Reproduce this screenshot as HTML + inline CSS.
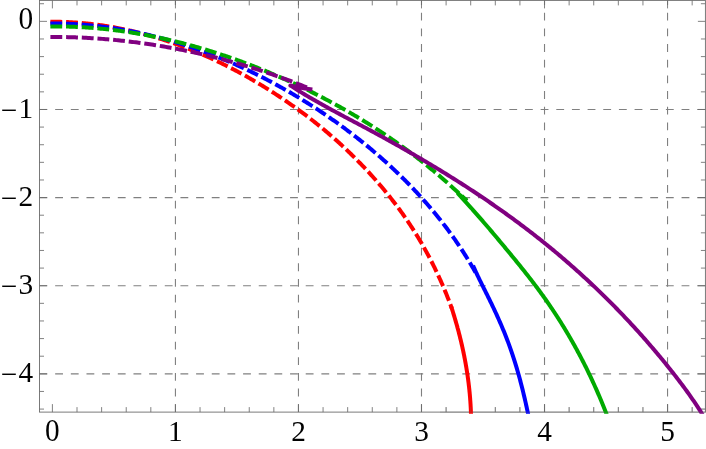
<!DOCTYPE html>
<html><head><meta charset="utf-8"><title>Plot</title>
<style>html,body{margin:0;padding:0;background:#fff;}body{width:706px;height:449px;overflow:hidden;position:relative;font-family:"Liberation Serif",serif;}</style>
</head><body>
<svg width="706" height="449" viewBox="0 0 706 449" style="position:absolute;left:0;top:0;will-change:transform">
<defs><clipPath id="c"><rect x="39.5" y="-0.6" width="667.4" height="414.30000000000007"/></clipPath></defs>
<g stroke="#808080" stroke-width="1.1" stroke-dasharray="7.83 7.83" fill="none"><line x1="175.43" y1="412.1" x2="175.43" y2="0.4"/><line x1="298.46" y1="412.1" x2="298.46" y2="0.4"/><line x1="421.49" y1="412.1" x2="421.49" y2="0.4"/><line x1="544.52" y1="412.1" x2="544.52" y2="0.4"/><line x1="667.55" y1="412.1" x2="667.55" y2="0.4"/><line x1="39.5" y1="109.47" x2="705.4" y2="109.47"/><line x1="39.5" y1="197.59" x2="705.4" y2="197.59"/><line x1="39.5" y1="285.71" x2="705.4" y2="285.71"/><line x1="39.5" y1="373.83" x2="705.4" y2="373.83"/></g>
<g stroke="#6c6c6c" fill="none"><g stroke-width="0.9"><rect x="39.5" y="0.4" width="665.9" height="411.70000000000005"/></g><g stroke-width="0.85"><line x1="52.40" y1="412.1" x2="52.40" y2="404.1"/><line x1="52.40" y1="0.4" x2="52.40" y2="8.4"/><line x1="77.01" y1="412.1" x2="77.01" y2="407.1"/><line x1="77.01" y1="0.4" x2="77.01" y2="5.4"/><line x1="101.61" y1="412.1" x2="101.61" y2="407.1"/><line x1="101.61" y1="0.4" x2="101.61" y2="5.4"/><line x1="126.22" y1="412.1" x2="126.22" y2="407.1"/><line x1="126.22" y1="0.4" x2="126.22" y2="5.4"/><line x1="150.82" y1="412.1" x2="150.82" y2="407.1"/><line x1="150.82" y1="0.4" x2="150.82" y2="5.4"/><line x1="175.43" y1="412.1" x2="175.43" y2="404.1"/><line x1="175.43" y1="0.4" x2="175.43" y2="8.4"/><line x1="200.04" y1="412.1" x2="200.04" y2="407.1"/><line x1="200.04" y1="0.4" x2="200.04" y2="5.4"/><line x1="224.64" y1="412.1" x2="224.64" y2="407.1"/><line x1="224.64" y1="0.4" x2="224.64" y2="5.4"/><line x1="249.25" y1="412.1" x2="249.25" y2="407.1"/><line x1="249.25" y1="0.4" x2="249.25" y2="5.4"/><line x1="273.85" y1="412.1" x2="273.85" y2="407.1"/><line x1="273.85" y1="0.4" x2="273.85" y2="5.4"/><line x1="298.46" y1="412.1" x2="298.46" y2="404.1"/><line x1="298.46" y1="0.4" x2="298.46" y2="8.4"/><line x1="323.07" y1="412.1" x2="323.07" y2="407.1"/><line x1="323.07" y1="0.4" x2="323.07" y2="5.4"/><line x1="347.67" y1="412.1" x2="347.67" y2="407.1"/><line x1="347.67" y1="0.4" x2="347.67" y2="5.4"/><line x1="372.28" y1="412.1" x2="372.28" y2="407.1"/><line x1="372.28" y1="0.4" x2="372.28" y2="5.4"/><line x1="396.88" y1="412.1" x2="396.88" y2="407.1"/><line x1="396.88" y1="0.4" x2="396.88" y2="5.4"/><line x1="421.49" y1="412.1" x2="421.49" y2="404.1"/><line x1="421.49" y1="0.4" x2="421.49" y2="8.4"/><line x1="446.10" y1="412.1" x2="446.10" y2="407.1"/><line x1="446.10" y1="0.4" x2="446.10" y2="5.4"/><line x1="470.70" y1="412.1" x2="470.70" y2="407.1"/><line x1="470.70" y1="0.4" x2="470.70" y2="5.4"/><line x1="495.31" y1="412.1" x2="495.31" y2="407.1"/><line x1="495.31" y1="0.4" x2="495.31" y2="5.4"/><line x1="519.91" y1="412.1" x2="519.91" y2="407.1"/><line x1="519.91" y1="0.4" x2="519.91" y2="5.4"/><line x1="544.52" y1="412.1" x2="544.52" y2="404.1"/><line x1="544.52" y1="0.4" x2="544.52" y2="8.4"/><line x1="569.13" y1="412.1" x2="569.13" y2="407.1"/><line x1="569.13" y1="0.4" x2="569.13" y2="5.4"/><line x1="593.73" y1="412.1" x2="593.73" y2="407.1"/><line x1="593.73" y1="0.4" x2="593.73" y2="5.4"/><line x1="618.34" y1="412.1" x2="618.34" y2="407.1"/><line x1="618.34" y1="0.4" x2="618.34" y2="5.4"/><line x1="642.94" y1="412.1" x2="642.94" y2="407.1"/><line x1="642.94" y1="0.4" x2="642.94" y2="5.4"/><line x1="667.55" y1="412.1" x2="667.55" y2="404.1"/><line x1="667.55" y1="0.4" x2="667.55" y2="8.4"/><line x1="692.16" y1="412.1" x2="692.16" y2="407.1"/><line x1="692.16" y1="0.4" x2="692.16" y2="5.4"/><line x1="39.5" y1="3.73" x2="44.0" y2="3.73"/><line x1="705.4" y1="3.73" x2="700.9" y2="3.73"/><line x1="39.5" y1="21.35" x2="47.0" y2="21.35"/><line x1="705.4" y1="21.35" x2="697.9" y2="21.35"/><line x1="39.5" y1="38.97" x2="44.0" y2="38.97"/><line x1="705.4" y1="38.97" x2="700.9" y2="38.97"/><line x1="39.5" y1="56.60" x2="44.0" y2="56.60"/><line x1="705.4" y1="56.60" x2="700.9" y2="56.60"/><line x1="39.5" y1="74.22" x2="44.0" y2="74.22"/><line x1="705.4" y1="74.22" x2="700.9" y2="74.22"/><line x1="39.5" y1="91.85" x2="44.0" y2="91.85"/><line x1="705.4" y1="91.85" x2="700.9" y2="91.85"/><line x1="39.5" y1="109.47" x2="47.0" y2="109.47"/><line x1="705.4" y1="109.47" x2="697.9" y2="109.47"/><line x1="39.5" y1="127.09" x2="44.0" y2="127.09"/><line x1="705.4" y1="127.09" x2="700.9" y2="127.09"/><line x1="39.5" y1="144.72" x2="44.0" y2="144.72"/><line x1="705.4" y1="144.72" x2="700.9" y2="144.72"/><line x1="39.5" y1="162.34" x2="44.0" y2="162.34"/><line x1="705.4" y1="162.34" x2="700.9" y2="162.34"/><line x1="39.5" y1="179.97" x2="44.0" y2="179.97"/><line x1="705.4" y1="179.97" x2="700.9" y2="179.97"/><line x1="39.5" y1="197.59" x2="47.0" y2="197.59"/><line x1="705.4" y1="197.59" x2="697.9" y2="197.59"/><line x1="39.5" y1="215.21" x2="44.0" y2="215.21"/><line x1="705.4" y1="215.21" x2="700.9" y2="215.21"/><line x1="39.5" y1="232.84" x2="44.0" y2="232.84"/><line x1="705.4" y1="232.84" x2="700.9" y2="232.84"/><line x1="39.5" y1="250.46" x2="44.0" y2="250.46"/><line x1="705.4" y1="250.46" x2="700.9" y2="250.46"/><line x1="39.5" y1="268.09" x2="44.0" y2="268.09"/><line x1="705.4" y1="268.09" x2="700.9" y2="268.09"/><line x1="39.5" y1="285.71" x2="47.0" y2="285.71"/><line x1="705.4" y1="285.71" x2="697.9" y2="285.71"/><line x1="39.5" y1="303.33" x2="44.0" y2="303.33"/><line x1="705.4" y1="303.33" x2="700.9" y2="303.33"/><line x1="39.5" y1="320.96" x2="44.0" y2="320.96"/><line x1="705.4" y1="320.96" x2="700.9" y2="320.96"/><line x1="39.5" y1="338.58" x2="44.0" y2="338.58"/><line x1="705.4" y1="338.58" x2="700.9" y2="338.58"/><line x1="39.5" y1="356.21" x2="44.0" y2="356.21"/><line x1="705.4" y1="356.21" x2="700.9" y2="356.21"/><line x1="39.5" y1="373.83" x2="47.0" y2="373.83"/><line x1="705.4" y1="373.83" x2="697.9" y2="373.83"/><line x1="39.5" y1="391.45" x2="44.0" y2="391.45"/><line x1="705.4" y1="391.45" x2="700.9" y2="391.45"/><line x1="39.5" y1="409.08" x2="44.0" y2="409.08"/><line x1="705.4" y1="409.08" x2="700.9" y2="409.08"/></g></g>
<g clip-path="url(#c)">
<path d="M52.37,21.82 L53.68,21.82 L54.99,21.82 L56.29,21.82 L57.60,21.83 L58.90,21.85 L60.21,21.87 L61.51,21.90 L62.81,21.93 L64.12,21.97 L65.42,22.01 L66.72,22.06 L68.03,22.12 L69.33,22.18 L70.63,22.24 L71.93,22.31 L73.23,22.38 L74.53,22.46 L75.83,22.55 L77.12,22.64 L78.42,22.73 L79.72,22.83 L81.02,22.94 L82.31,23.05 L83.61,23.16 L84.90,23.28 L86.20,23.41 L87.49,23.54 L88.78,23.67 L90.07,23.81 L91.37,23.96 L92.66,24.11 L93.95,24.26 L95.24,24.42 L96.53,24.59 L97.81,24.76 L99.10,24.93 L100.39,25.11 L101.67,25.30 L102.96,25.48 L104.24,25.68 L105.53,25.88 L106.81,26.08 L108.09,26.29 L109.37,26.50 L110.65,26.72 L111.93,26.94 L113.21,27.16 L114.49,27.39 L115.77,27.63 L117.04,27.87 L118.32,28.11 L119.59,28.36 L120.87,28.62 L122.14,28.88 L123.41,29.14 L124.68,29.41 L125.96,29.68 L127.22,29.95 L128.49,30.23 L129.76,30.52 L131.03,30.81 L132.29,31.10 L133.56,31.40 L134.82,31.70 L136.08,32.01 L137.34,32.32 L138.61,32.64 L139.86,32.96 L141.12,33.28 L142.38,33.61 L143.64,33.94 L144.89,34.28 L146.15,34.62 L147.40,34.97 L148.65,35.32 L149.90,35.67 L151.15,36.03 L152.40,36.39 L153.65,36.76 L154.90,37.13 L156.14,37.50 L157.39,37.88 L158.63,38.26 L159.87,38.65 L161.11,39.04 L162.35,39.43 L163.59,39.83 L164.83,40.23 L166.06,40.64 L167.30,41.05 L168.53,41.46 L169.76,41.88 L170.99,42.30 L172.22,42.73 L173.45,43.16 L174.68,43.59 L175.91,44.03 L177.13,44.47 L178.35,44.91 L179.58,45.36 L180.80,45.81 L182.01,46.27 L183.23,46.73 L184.45,47.19 L185.66,47.66 L186.88,48.13 L188.09,48.61 L189.30,49.08 L190.51,49.56 L191.72,50.05 L192.93,50.54 L194.13,51.03 L195.33,51.53 L196.54,52.03 L197.74,52.53 L198.94,53.04 L200.13,53.55 L201.33,54.06 L202.53,54.58 L203.72,55.10 L204.91,55.62 L206.10,56.15 L207.29,56.68 L208.48,57.21 L209.66,57.75 L210.85,58.29 L212.03,58.83 L213.21,59.38 L214.39,59.93 L215.57,60.48 L216.74,61.04 L217.92,61.60 L219.09,62.16 L220.26,62.73 L221.43,63.30 L222.60,63.87 L223.76,64.45 L224.93,65.02 L226.09,65.61 L227.25,66.19 L228.41,66.78 L229.57,67.37 L230.72,67.97 L231.88,68.56 L233.03,69.16 L234.18,69.77 L235.33,70.37 L236.48,70.98 L237.62,71.60 L238.77,72.21 L239.91,72.83 L241.05,73.45 L242.19,74.08 L243.33,74.70 L244.46,75.33 L245.60,75.97 L246.73,76.60 L247.86,77.24 L248.99,77.88 L250.12,78.53 L251.24,79.18 L252.37,79.83 L253.49,80.48 L254.61,81.14 L255.73,81.80 L256.85,82.46 L257.96,83.12 L259.08,83.79 L260.19,84.46 L261.30,85.13 L262.41,85.81 L263.52,86.48 L264.63,87.16 L265.73,87.85 L266.83,88.53 L267.93,89.22 L269.03,89.91 L270.13,90.61 L271.23,91.31 L272.32,92.01 L273.41,92.71 L274.51,93.41 L275.60,94.12 L276.68,94.83 L277.77,95.54 L278.85,96.26 L279.94,96.97 L281.02,97.69 L282.10,98.42 L283.18,99.14 L284.25,99.87 L285.33,100.60 L286.40,101.33 L287.47,102.07 L288.54,102.80 L289.61,103.54 L290.67,104.29 L291.74,105.03 L292.80,105.78 L293.86,106.53 L294.92,107.29 L295.97,108.04 L297.03,108.80 L298.08,109.56 L299.13,110.32 L300.18,111.09 L301.22,111.86 L302.27,112.63 L303.31,113.41 L304.35,114.18 L305.39,114.96 L306.42,115.74 L307.46,116.53 L308.49,117.32 L309.52,118.11 L310.55,118.90 L311.57,119.69 L312.60,120.49 L313.62,121.29 L314.64,122.10 L315.66,122.90 L316.67,123.71 L317.68,124.52 L318.69,125.34 L319.70,126.15 L320.71,126.97 L321.71,127.80 L322.71,128.62 L323.71,129.45 L324.71,130.28 L325.70,131.12 L326.70,131.95 L327.69,132.79 L328.67,133.63 L329.66,134.48 L330.64,135.33 L331.62,136.18 L332.60,137.03 L333.57,137.89 L334.55,138.75 L335.52,139.61 L336.49,140.47 L337.45,141.34 L338.41,142.21 L339.37,143.09 L340.33,143.96 L341.29,144.84 L342.24,145.73 L343.19,146.61 L344.14,147.50 L345.09,148.39 L346.03,149.28 L346.97,150.18 L347.91,151.08 L348.84,151.98 L349.78,152.88 L350.71,153.79 L351.64,154.70 L352.56,155.61 L353.49,156.52 L354.41,157.44 L355.33,158.36 L356.25,159.28 L357.16,160.21 L358.07,161.13 L358.98,162.06 L359.89,162.99 L360.79,163.93 L361.70,164.86 L362.60,165.80 L363.49,166.74 L364.39,167.69 L365.28,168.63 L366.17,169.58 L367.06,170.53 L367.94,171.48 L368.83,172.44 L369.71,173.40 L370.58,174.36 L371.46,175.32 L372.33,176.28 L373.20,177.25 L374.07,178.22 L374.93,179.19 L375.80,180.17 L376.65,181.14 L377.51,182.12 L378.36,183.10 L379.21,184.09 L380.06,185.07 L380.91,186.06 L381.75,187.05 L382.59,188.05 L383.42,189.04 L384.26,190.04 L385.09,191.04 L385.91,192.05 L386.74,193.05 L387.56,194.06 L388.37,195.07 L389.19,196.08 L390.00,197.10 L390.81,198.12 L391.61,199.14 L392.41,200.16 L393.21,201.19 L394.00,202.22 L394.79,203.25 L395.58,204.28 L396.37,205.32 L397.15,206.36 L397.92,207.40 L398.70,208.44 L399.47,209.49 L400.23,210.54 L400.99,211.59 L401.75,212.64 L402.51,213.70 L403.26,214.76 L404.01,215.82 L404.75,216.89 L405.49,217.95 L406.23,219.02 L406.96,220.09 L407.69,221.17 L408.42,222.25 L409.14,223.33 L409.86,224.41 L410.57,225.49 L411.28,226.58 L411.99,227.67 L412.69,228.76 L413.39,229.86 L414.09,230.96 L414.78,232.05 L415.46,233.16 L416.15,234.26 L416.83,235.37 L417.51,236.48 L418.18,237.59 L418.85,238.70 L419.51,239.82 L420.17,240.93 L420.83,242.06 L421.49,243.18 L422.14,244.30 L422.78,245.43 L423.42,246.56 L424.06,247.69 L424.70,248.82 L425.33,249.96 L425.96,251.10 L426.58,252.24 L427.20,253.38 L427.82,254.52 L428.43,255.67 L429.04,256.82 L429.64,257.97 L430.24,259.12 L430.84,260.27 L431.43,261.43 L432.02,262.59 L432.61,263.75 L433.19,264.91 L433.77,266.07 L434.34,267.24 L434.92,268.41 L435.48,269.58 L436.05,270.75 L436.61,271.92 L437.16,273.10 L437.71,274.27 L438.26,275.45 L438.81,276.63 L439.35,277.81 L439.88,279.00 L440.42,280.18 L440.94,281.37 L441.47,282.56 L441.99,283.75 L442.51,284.94 L443.02,286.14 L443.53,287.33 L444.04,288.53 L444.54,289.73 L445.04,290.93 L445.54,292.13 L446.03,293.34 L446.52,294.54 L447.00,295.75 L447.48,296.96 L447.96,298.17 L448.43,299.38 L448.90,300.59 L449.36,301.81 L449.82,303.02 L450.28,304.24 L450.73,305.46 L451.18,306.68" stroke="#ff0000" stroke-width="4" fill="none" stroke-dasharray="7.85 7.85" stroke-linecap="square" stroke-linejoin="round"/><path d="M451.77,308.38 L451.94,308.90 L452.10,309.41 L452.27,309.93 L452.43,310.45 L452.60,310.97 L452.76,311.49 L452.92,312.00 L453.08,312.52 L453.25,313.04 L453.41,313.56 L453.57,314.08 L453.73,314.60 L453.88,315.12 L454.04,315.64 L454.20,316.16 L454.36,316.68 L454.51,317.20 L454.67,317.72 L454.83,318.24 L454.98,318.76 L455.13,319.28 L455.29,319.81 L455.44,320.33 L455.59,320.85 L455.74,321.37 L455.89,321.89 L456.04,322.42 L456.19,322.94 L456.34,323.46 L456.49,323.98 L456.64,324.51 L456.79,325.03 L456.93,325.55 L457.08,326.08 L457.22,326.60 L457.37,327.13 L457.51,327.65 L457.65,328.18 L457.80,328.70 L457.94,329.23 L458.08,329.75 L458.22,330.28 L458.36,330.80 L458.50,331.33 L458.64,331.85 L458.77,332.38 L458.91,332.91 L459.05,333.43 L459.18,333.96 L459.32,334.49 L459.45,335.01 L459.59,335.54 L459.72,336.07 L459.85,336.60 L459.98,337.12 L460.11,337.65 L460.24,338.18 L460.37,338.71 L460.50,339.24 L460.63,339.76 L460.76,340.29 L460.89,340.82 L461.01,341.35 L461.14,341.88 L461.26,342.41 L461.39,342.94 L461.51,343.47 L461.63,344.00 L461.75,344.53 L461.87,345.06 L462.00,345.59 L462.11,346.12 L462.23,346.65 L462.35,347.18 L462.47,347.71 L462.59,348.24 L462.70,348.78 L462.82,349.31 L462.93,349.84 L463.05,350.37 L463.16,350.90 L463.27,351.43 L463.39,351.97 L463.50,352.50 L463.61,353.03 L463.72,353.56 L463.83,354.10 L463.93,354.63 L464.04,355.16 L464.15,355.70 L464.25,356.23 L464.36,356.76 L464.46,357.30 L464.57,357.83 L464.67,358.36 L464.77,358.90 L464.87,359.43 L464.98,359.97 L465.08,360.50 L465.17,361.04 L465.27,361.57 L465.37,362.11 L465.47,362.64 L465.56,363.18 L465.66,363.71 L465.75,364.25 L465.85,364.78 L465.94,365.32 L466.03,365.85 L466.13,366.39 L466.22,366.93 L466.31,367.46 L466.40,368.00 L466.48,368.54 L466.57,369.07 L466.66,369.61 L466.75,370.15 L466.83,370.68 L466.92,371.22 L467.00,371.76 L467.08,372.29 L467.16,372.83 L467.25,373.37 L467.33,373.91 L467.41,374.45 L467.49,374.98 L467.56,375.52 L467.64,376.06 L467.72,376.60 L467.79,377.14 L467.87,377.67 L467.94,378.21 L468.02,378.75 L468.09,379.29 L468.16,379.83 L468.23,380.37 L468.30,380.91 L468.37,381.45 L468.44,381.99 L468.51,382.53 L468.57,383.07 L468.64,383.60 L468.71,384.14 L468.77,384.68 L468.83,385.22 L468.90,385.76 L468.96,386.30 L469.02,386.84 L469.08,387.38 L469.14,387.93 L469.20,388.47 L469.26,389.01 L469.31,389.55 L469.37,390.09 L469.42,390.63 L469.48,391.17 L469.53,391.71 L469.59,392.25 L469.64,392.79 L469.69,393.33 L469.74,393.88 L469.79,394.42 L469.84,394.96 L469.88,395.50 L469.93,396.04 L469.98,396.58 L470.02,397.13 L470.07,397.67 L470.11,398.21 L470.15,398.75 L470.19,399.29 L470.23,399.84 L470.27,400.38 L470.31,400.92 L470.35,401.46 L470.39,402.01 L470.42,402.55 L470.46,403.09 L470.49,403.63 L470.53,404.18 L470.56,404.72 L470.59,405.26 L470.62,405.80 L470.65,406.35 L470.68,406.89 L470.71,407.43 L470.74,407.98 L470.76,408.52 L470.79,409.06 L470.81,409.61 L470.84,410.15 L470.86,410.69 L470.88,411.24 L470.90,411.78 L470.92,412.33 L470.94,412.87 L470.96,413.41 L470.98,413.96 L471.00,414.50" stroke="#ff0000" stroke-width="4" fill="none" stroke-linecap="square" stroke-linejoin="round"/>
<path d="M52.31,23.51 L53.60,23.51 L54.89,23.52 L56.18,23.53 L57.47,23.54 L58.76,23.56 L60.04,23.59 L61.33,23.61 L62.62,23.65 L63.90,23.68 L65.19,23.72 L66.47,23.77 L67.76,23.82 L69.04,23.87 L70.32,23.92 L71.61,23.98 L72.89,24.05 L74.17,24.12 L75.45,24.19 L76.73,24.27 L78.01,24.35 L79.29,24.43 L80.57,24.52 L81.85,24.61 L83.13,24.71 L84.41,24.81 L85.68,24.92 L86.96,25.03 L88.23,25.14 L89.51,25.25 L90.78,25.37 L92.06,25.50 L93.33,25.63 L94.60,25.76 L95.87,25.90 L97.15,26.04 L98.42,26.18 L99.69,26.33 L100.96,26.48 L102.22,26.63 L103.49,26.79 L104.76,26.96 L106.03,27.12 L107.29,27.29 L108.56,27.47 L109.82,27.64 L111.09,27.83 L112.35,28.01 L113.61,28.20 L114.87,28.39 L116.14,28.59 L117.40,28.79 L118.66,29.00 L119.92,29.20 L121.17,29.42 L122.43,29.63 L123.69,29.85 L124.95,30.07 L126.20,30.30 L127.46,30.53 L128.71,30.76 L129.96,31.00 L131.22,31.24 L132.47,31.49 L133.72,31.74 L134.97,31.99 L136.22,32.24 L137.47,32.50 L138.71,32.76 L139.96,33.03 L141.21,33.30 L142.45,33.57 L143.70,33.85 L144.94,34.13 L146.19,34.41 L147.43,34.70 L148.67,34.99 L149.91,35.29 L151.15,35.58 L152.39,35.89 L153.63,36.19 L154.87,36.50 L156.10,36.81 L157.34,37.12 L158.57,37.44 L159.81,37.77 L161.04,38.09 L162.27,38.42 L163.50,38.75 L164.73,39.09 L165.96,39.43 L167.19,39.77 L168.42,40.11 L169.65,40.46 L170.87,40.81 L172.10,41.17 L173.32,41.53 L174.54,41.89 L175.77,42.26 L176.99,42.63 L178.21,43.00 L179.43,43.37 L180.65,43.75 L181.86,44.13 L183.08,44.52 L184.30,44.91 L185.51,45.30 L186.72,45.69 L187.94,46.09 L189.15,46.49 L190.36,46.90 L191.57,47.30 L192.78,47.71 L193.99,48.13 L195.19,48.55 L196.40,48.97 L197.60,49.39 L198.81,49.82 L200.01,50.24 L201.21,50.68 L202.41,51.11 L203.61,51.55 L204.81,51.99 L206.01,52.44 L207.20,52.89 L208.40,53.34 L209.59,53.79 L210.79,54.25 L211.98,54.71 L213.17,55.17 L214.36,55.64 L215.55,56.11 L216.74,56.58 L217.92,57.05 L219.11,57.53 L220.29,58.01 L221.48,58.50 L222.66,58.98 L223.84,59.47 L225.02,59.97 L226.20,60.46 L227.38,60.96 L228.55,61.46 L229.73,61.97 L230.90,62.48 L232.08,62.99 L233.25,63.50 L234.42,64.01 L235.59,64.53 L236.76,65.05 L237.93,65.58 L239.09,66.11 L240.26,66.64 L241.42,67.17 L242.58,67.70 L243.75,68.24 L244.91,68.78 L246.06,69.33 L247.22,69.87 L248.38,70.42 L249.53,70.98 L250.69,71.53 L251.84,72.09 L252.99,72.65 L254.14,73.21 L255.29,73.78 L256.44,74.34 L257.59,74.92 L258.73,75.49 L259.88,76.06 L261.02,76.64 L262.16,77.23 L263.30,77.81 L264.44,78.40 L265.58,78.99 L266.71,79.58 L267.85,80.17 L268.98,80.77 L270.12,81.37 L271.25,81.97 L272.38,82.57 L273.51,83.18 L274.63,83.79 L275.76,84.40 L276.88,85.02 L278.01,85.64 L279.13,86.26 L280.25,86.88 L281.37,87.50 L282.48,88.13 L283.60,88.76 L284.72,89.39 L285.83,90.03 L286.94,90.66 L288.05,91.30 L289.16,91.94 L290.27,92.59 L291.38,93.24 L292.48,93.88 L293.59,94.54 L294.69,95.19 L295.79,95.85 L296.89,96.50 L297.99,97.16 L299.08,97.83 L300.18,98.49 L301.27,99.16 L302.36,99.83 L303.45,100.50 L304.54,101.18 L305.63,101.85 L306.72,102.53 L307.80,103.22 L308.89,103.90 L309.97,104.58 L311.05,105.27 L312.13,105.96 L313.21,106.66 L314.28,107.35 L315.36,108.05 L316.43,108.75 L317.50,109.45 L318.57,110.15 L319.64,110.86 L320.70,111.57 L321.77,112.28 L322.83,112.99 L323.90,113.71 L324.96,114.42 L326.01,115.14 L327.07,115.86 L328.13,116.59 L329.18,117.31 L330.23,118.04 L331.28,118.77 L332.33,119.51 L333.38,120.24 L334.42,120.98 L335.47,121.72 L336.51,122.46 L337.55,123.21 L338.59,123.95 L339.62,124.70 L340.66,125.45 L341.69,126.21 L342.72,126.96 L343.75,127.72 L344.78,128.48 L345.81,129.24 L346.83,130.01 L347.86,130.77 L348.88,131.54 L349.90,132.32 L350.91,133.09 L351.93,133.86 L352.94,134.64 L353.95,135.42 L354.96,136.21 L355.97,136.99 L356.98,137.78 L357.98,138.57 L358.99,139.36 L359.99,140.15 L360.99,140.95 L361.98,141.75 L362.98,142.55 L363.97,143.35 L364.96,144.16 L365.95,144.97 L366.94,145.78 L367.92,146.59 L368.91,147.40 L369.89,148.22 L370.87,149.04 L371.84,149.86 L372.82,150.68 L373.79,151.51 L374.76,152.34 L375.73,153.17 L376.70,154.00 L377.66,154.83 L378.63,155.67 L379.59,156.51 L380.55,157.35 L381.50,158.20 L382.46,159.04 L383.41,159.89 L384.36,160.74 L385.31,161.59 L386.26,162.45 L387.20,163.31 L388.14,164.17 L389.08,165.03 L390.02,165.89 L390.96,166.76 L391.89,167.63 L392.82,168.50 L393.75,169.37 L394.68,170.25 L395.60,171.12 L396.53,172.00 L397.45,172.89 L398.37,173.77 L399.28,174.66 L400.20,175.55 L401.11,176.44 L402.02,177.33 L402.92,178.23 L403.83,179.13 L404.73,180.03 L405.63,180.93 L406.53,181.84 L407.42,182.74 L408.31,183.65 L409.20,184.57 L410.09,185.48 L410.98,186.40 L411.86,187.32 L412.74,188.24 L413.62,189.16 L414.49,190.09 L415.37,191.02 L416.24,191.95 L417.11,192.88 L417.97,193.82 L418.83,194.75 L419.69,195.69 L420.55,196.64 L421.41,197.58 L422.26,198.53 L423.11,199.48 L423.96,200.43 L424.80,201.39 L425.64,202.34 L426.48,203.30 L427.32,204.26 L428.15,205.23 L428.98,206.19 L429.81,207.16 L430.64,208.13 L431.46,209.11 L432.28,210.08 L433.10,211.06 L433.91,212.04 L434.73,213.02 L435.53,214.01 L436.34,215.00 L437.14,215.99 L437.94,216.98 L438.74,217.97 L439.54,218.97 L440.33,219.97 L441.12,220.97 L441.90,221.98 L442.68,222.98 L443.46,223.99 L444.24,225.01 L445.02,226.02 L445.79,227.04 L446.55,228.06 L447.32,229.08 L448.08,230.10 L448.84,231.13 L449.59,232.16 L450.35,233.19 L451.10,234.22 L451.84,235.26 L452.59,236.30 L453.33,237.34 L454.06,238.38 L454.80,239.43 L455.53,240.48 L456.25,241.53 L456.98,242.58 L457.70,243.64 L458.41,244.70 L459.13,245.76 L459.84,246.82 L460.55,247.89 L461.25,248.96 L461.95,250.03 L462.65,251.10 L463.35,252.18 L464.04,253.26 L464.72,254.34 L465.41,255.42 L466.09,256.51 L466.77,257.60 L467.44,258.69 L468.11,259.78 L468.78,260.88 L469.44,261.98 L470.10,263.08 L470.76,264.18 L471.41,265.29 L472.06,266.40 L472.71,267.51 L473.35,268.62 L473.99,269.74 L474.62,270.86" stroke="#0000ff" stroke-width="4" fill="none" stroke-dasharray="7.85 7.85" stroke-linecap="square" stroke-linejoin="round"/><path d="M473.89,267.44 L474.20,268.16 L474.52,268.88 L474.84,269.60 L475.17,270.32 L475.49,271.04 L475.82,271.75 L476.15,272.47 L476.48,273.18 L476.81,273.90 L477.14,274.61 L477.48,275.32 L477.82,276.04 L478.16,276.75 L478.50,277.46 L478.84,278.17 L479.18,278.88 L479.53,279.59 L479.88,280.30 L480.22,281.01 L480.57,281.72 L480.92,282.43 L481.27,283.14 L481.62,283.84 L481.97,284.55 L482.32,285.26 L482.67,285.97 L483.03,286.67 L483.38,287.38 L483.73,288.09 L484.09,288.80 L484.44,289.50 L484.80,290.21 L485.15,290.92 L485.50,291.63 L485.86,292.33 L486.21,293.04 L486.56,293.75 L486.92,294.46 L487.27,295.16 L487.62,295.87 L487.97,296.58 L488.32,297.29 L488.67,298.00 L489.02,298.71 L489.37,299.42 L489.72,300.13 L490.07,300.84 L490.41,301.56 L490.76,302.27 L491.10,302.98 L491.45,303.69 L491.79,304.41 L492.13,305.12 L492.47,305.83 L492.81,306.55 L493.15,307.26 L493.49,307.98 L493.83,308.69 L494.17,309.41 L494.50,310.13 L494.84,310.84 L495.17,311.56 L495.50,312.28 L495.84,313.00 L496.17,313.71 L496.50,314.43 L496.83,315.15 L497.15,315.87 L497.48,316.59 L497.81,317.31 L498.13,318.04 L498.45,318.76 L498.78,319.48 L499.10,320.20 L499.42,320.93 L499.74,321.65 L500.05,322.38 L500.37,323.10 L500.68,323.83 L501.00,324.55 L501.31,325.28 L501.62,326.01 L501.93,326.73 L502.24,327.46 L502.54,328.19 L502.85,328.92 L503.15,329.65 L503.46,330.38 L503.76,331.11 L504.06,331.84 L504.35,332.58 L504.65,333.31 L504.95,334.04 L505.24,334.78 L505.53,335.51 L505.82,336.25 L506.11,336.98 L506.40,337.72 L506.68,338.46 L506.97,339.20 L507.25,339.93 L507.53,340.67 L507.81,341.41 L508.09,342.15 L508.36,342.90 L508.64,343.64 L508.91,344.38 L509.18,345.12 L509.45,345.87 L509.72,346.61 L509.98,347.36 L510.25,348.10 L510.51,348.85 L510.77,349.59 L511.03,350.34 L511.29,351.09 L511.55,351.84 L511.80,352.58 L512.05,353.33 L512.31,354.08 L512.56,354.83 L512.81,355.59 L513.05,356.34 L513.30,357.09 L513.54,357.84 L513.79,358.59 L514.03,359.35 L514.27,360.10 L514.51,360.86 L514.75,361.61 L514.98,362.37 L515.22,363.12 L515.45,363.88 L515.68,364.64 L515.91,365.39 L516.14,366.15 L516.37,366.91 L516.60,367.67 L516.82,368.43 L517.05,369.18 L517.27,369.94 L517.49,370.70 L517.71,371.46 L517.93,372.23 L518.14,372.99 L518.36,373.75 L518.57,374.51 L518.79,375.27 L519.00,376.04 L519.21,376.80 L519.42,377.56 L519.63,378.33 L519.84,379.09 L520.04,379.85 L520.25,380.62 L520.45,381.38 L520.65,382.15 L520.85,382.92 L521.05,383.68 L521.25,384.45 L521.45,385.21 L521.65,385.98 L521.84,386.75 L522.04,387.52 L522.23,388.28 L522.42,389.05 L522.61,389.82 L522.80,390.59 L522.99,391.36 L523.18,392.13 L523.36,392.90 L523.55,393.66 L523.73,394.43 L523.92,395.20 L524.10,395.97 L524.28,396.74 L524.46,397.51 L524.64,398.28 L524.82,399.06 L525.00,399.83 L525.17,400.60 L525.35,401.37 L525.52,402.14 L525.70,402.91 L525.87,403.68 L526.04,404.45 L526.21,405.23 L526.38,406.00 L526.55,406.77 L526.72,407.54 L526.89,408.32 L527.05,409.09 L527.22,409.86 L527.38,410.63 L527.55,411.41 L527.71,412.18 L527.87,412.95 L528.03,413.72 L528.19,414.50" stroke="#0000ff" stroke-width="4" fill="none" stroke-linecap="square" stroke-linejoin="round"/>
<path d="M52.36,26.39 L53.51,26.39 L54.67,26.39 L55.82,26.39 L56.97,26.39 L58.13,26.40 L59.28,26.41 L60.43,26.43 L61.59,26.44 L62.74,26.46 L63.89,26.49 L65.04,26.51 L66.19,26.54 L67.34,26.57 L68.49,26.60 L69.65,26.64 L70.80,26.68 L71.95,26.72 L73.10,26.77 L74.25,26.81 L75.39,26.86 L76.54,26.92 L77.69,26.97 L78.84,27.03 L79.99,27.09 L81.14,27.15 L82.29,27.22 L83.43,27.29 L84.58,27.36 L85.73,27.44 L86.88,27.51 L88.02,27.59 L89.17,27.68 L90.31,27.76 L91.46,27.85 L92.60,27.94 L93.75,28.03 L94.89,28.13 L96.04,28.23 L97.18,28.33 L98.33,28.43 L99.47,28.54 L100.61,28.65 L101.76,28.76 L102.90,28.87 L104.04,28.99 L105.18,29.11 L106.32,29.23 L107.47,29.36 L108.61,29.48 L109.75,29.61 L110.89,29.74 L112.03,29.88 L113.17,30.02 L114.31,30.16 L115.44,30.30 L116.58,30.44 L117.72,30.59 L118.86,30.74 L120.00,30.89 L121.13,31.05 L122.27,31.21 L123.41,31.37 L124.54,31.53 L125.68,31.70 L126.81,31.86 L127.95,32.03 L129.08,32.21 L130.21,32.38 L131.35,32.56 L132.48,32.74 L133.61,32.92 L134.75,33.11 L135.88,33.29 L137.01,33.48 L138.14,33.68 L139.27,33.87 L140.40,34.07 L141.53,34.27 L142.66,34.47 L143.79,34.67 L144.92,34.88 L146.05,35.09 L147.17,35.30 L148.30,35.51 L149.43,35.73 L150.55,35.95 L151.68,36.17 L152.81,36.39 L153.93,36.62 L155.06,36.85 L156.18,37.08 L157.30,37.31 L158.43,37.55 L159.55,37.79 L160.67,38.03 L161.79,38.27 L162.91,38.51 L164.03,38.76 L165.15,39.01 L166.27,39.26 L167.39,39.51 L168.51,39.77 L169.63,40.03 L170.75,40.29 L171.87,40.55 L172.98,40.82 L174.10,41.08 L175.21,41.35 L176.33,41.63 L177.45,41.90 L178.56,42.18 L179.67,42.46 L180.79,42.74 L181.90,43.02 L183.01,43.31 L184.12,43.59 L185.23,43.88 L186.34,44.17 L187.45,44.47 L188.56,44.77 L189.67,45.06 L190.78,45.37 L191.89,45.67 L193.00,45.97 L194.10,46.28 L195.21,46.59 L196.31,46.90 L197.42,47.22 L198.52,47.53 L199.63,47.85 L200.73,48.17 L201.83,48.49 L202.94,48.82 L204.04,49.14 L205.14,49.47 L206.24,49.80 L207.34,50.14 L208.44,50.47 L209.54,50.81 L210.63,51.15 L211.73,51.49 L212.83,51.83 L213.93,52.18 L215.02,52.53 L216.12,52.88 L217.21,53.23 L218.30,53.58 L219.40,53.94 L220.49,54.29 L221.58,54.65 L222.67,55.02 L223.76,55.38 L224.85,55.75 L225.94,56.11 L227.03,56.48 L228.12,56.86 L229.21,57.23 L230.29,57.61 L231.38,57.98 L232.46,58.36 L233.55,58.75 L234.63,59.13 L235.72,59.51 L236.80,59.90 L237.88,60.29 L238.96,60.68 L240.04,61.08 L241.12,61.47 L242.20,61.87 L243.28,62.27 L244.36,62.67 L245.44,63.07 L246.51,63.48 L247.59,63.89 L248.66,64.30 L249.74,64.71 L250.81,65.12 L251.88,65.53 L252.96,65.95 L254.03,66.37 L255.10,66.79 L256.17,67.21 L257.24,67.63 L258.31,68.06 L259.38,68.49 L260.44,68.92 L261.51,69.35 L262.58,69.78 L263.64,70.22 L264.70,70.65 L265.77,71.09 L266.83,71.53 L267.89,71.97 L268.95,72.42 L270.01,72.86 L271.07,73.31 L272.13,73.76 L273.19,74.21 L274.25,74.67 L275.31,75.12 L276.36,75.58 L277.42,76.03 L278.47,76.49 L279.52,76.96 L280.58,77.42 L281.63,77.88 L282.68,78.35 L283.73,78.82 L284.78,79.29 L285.83,79.76 L286.88,80.24 L287.92,80.71 L288.97,81.19 L290.02,81.67 L291.06,82.15 L292.10,82.63 L293.15,83.11 L294.19,83.60 L295.23,84.09 L296.27,84.57 L297.31,85.07 L298.35,85.56 L299.39,86.05 L300.42,86.55 L301.46,87.04 L302.50,87.54 L303.53,88.04 L304.56,88.54 L305.60,89.05 L306.63,89.55 L307.66,90.06 L308.69,90.57 L309.72,91.08 L310.75,91.59 L311.78,92.10 L312.80,92.62 L313.83,93.13 L314.85,93.65 L315.88,94.17 L316.90,94.69 L317.92,95.21 L318.95,95.74 L319.97,96.26 L320.99,96.79 L322.00,97.32 L323.02,97.85 L324.04,98.38 L325.06,98.91 L326.07,99.45 L327.08,99.99 L328.10,100.52 L329.11,101.06 L330.12,101.61 L331.13,102.15 L332.14,102.69 L333.15,103.24 L334.16,103.79 L335.16,104.34 L336.17,104.89 L337.17,105.44 L338.18,106.00 L339.18,106.55 L340.18,107.11 L341.18,107.67 L342.18,108.23 L343.18,108.79 L344.18,109.36 L345.17,109.93 L346.17,110.49 L347.16,111.06 L348.16,111.63 L349.15,112.21 L350.14,112.78 L351.13,113.36 L352.12,113.94 L353.11,114.52 L354.09,115.10 L355.08,115.68 L356.06,116.27 L357.05,116.85 L358.03,117.44 L359.01,118.03 L359.99,118.62 L360.97,119.22 L361.95,119.81 L362.93,120.41 L363.91,121.01 L364.88,121.61 L365.86,122.21 L366.83,122.81 L367.80,123.42 L368.77,124.03 L369.74,124.63 L370.71,125.25 L371.68,125.86 L372.64,126.47 L373.61,127.09 L374.57,127.71 L375.53,128.33 L376.50,128.95 L377.46,129.57 L378.42,130.20 L379.37,130.82 L380.33,131.45 L381.29,132.08 L382.24,132.71 L383.19,133.35 L384.15,133.98 L385.10,134.62 L386.05,135.26 L387.00,135.90 L387.94,136.54 L388.89,137.19 L389.83,137.84 L390.78,138.48 L391.72,139.13 L392.66,139.79 L393.60,140.44 L394.54,141.10 L395.48,141.75 L396.42,142.41 L397.35,143.07 L398.28,143.74 L399.22,144.40 L400.15,145.07 L401.08,145.74 L402.01,146.41 L402.93,147.08 L403.86,147.76 L404.79,148.43 L405.71,149.11 L406.63,149.79 L407.55,150.47 L408.47,151.16 L409.39,151.84 L410.31,152.53 L411.22,153.22 L412.14,153.91 L413.05,154.60 L413.96,155.30 L414.87,155.99 L415.78,156.69 L416.69,157.39 L417.60,158.10 L418.50,158.80 L419.41,159.51 L420.31,160.22 L421.21,160.93 L422.11,161.64 L423.01,162.35 L423.91,163.07 L424.80,163.79 L425.70,164.50 L426.59,165.23 L427.48,165.95 L428.37,166.67 L429.26,167.40 L430.15,168.13 L431.04,168.86 L431.92,169.59 L432.81,170.32 L433.69,171.06 L434.57,171.80 L435.45,172.53 L436.33,173.27 L437.21,174.02 L438.08,174.76 L438.96,175.51 L439.83,176.25 L440.71,177.00 L441.58,177.75 L442.45,178.51 L443.31,179.26 L444.18,180.02 L445.05,180.77 L445.91,181.53 L446.77,182.29 L447.64,183.06 L448.50,183.82 L449.35,184.58 L450.21,185.35 L451.07,186.12 L451.92,186.89 L452.78,187.66 L453.63,188.44 L454.48,189.21 L455.33,189.99 L456.18,190.77 L457.03,191.55 L457.87,192.33 L458.72,193.11 L459.56,193.90 L460.40,194.68 L461.24,195.47 L462.08,196.26 L462.92,197.05 L463.76,197.84 L464.59,198.64 L465.43,199.43" stroke="#00aa00" stroke-width="4" fill="none" stroke-dasharray="7.85 7.85" stroke-linecap="square" stroke-linejoin="round"/><path d="M465.43,199.43 L458.30,193.91 L459.22,194.89 L460.14,195.88 L461.05,196.86 L461.96,197.85 L462.87,198.83 L463.78,199.82 L464.69,200.81 L465.60,201.81 L466.50,202.80 L467.40,203.80 L468.30,204.79 L469.20,205.79 L470.10,206.79 L471.00,207.79 L471.89,208.79 L472.79,209.80 L473.68,210.80 L474.57,211.81 L475.46,212.81 L476.35,213.82 L477.24,214.83 L478.12,215.84 L479.01,216.85 L479.89,217.87 L480.77,218.88 L481.66,219.90 L482.54,220.91 L483.41,221.93 L484.29,222.95 L485.17,223.97 L486.04,224.99 L486.92,226.01 L487.79,227.03 L488.67,228.05 L489.54,229.08 L490.41,230.10 L491.28,231.13 L492.15,232.15 L493.02,233.18 L493.88,234.21 L494.75,235.23 L495.62,236.26 L496.48,237.29 L497.34,238.32 L498.21,239.36 L499.07,240.39 L499.93,241.42 L500.79,242.45 L501.66,243.49 L502.52,244.52 L503.37,245.55 L504.23,246.59 L505.09,247.62 L505.95,248.66 L506.81,249.69 L507.66,250.73 L508.52,251.77 L509.38,252.81 L510.23,253.84 L511.09,254.88 L511.94,255.92 L512.79,256.96 L513.65,258.00 L514.50,259.04 L515.35,260.08 L516.20,261.13 L517.05,262.17 L517.89,263.21 L518.74,264.26 L519.58,265.30 L520.43,266.35 L521.27,267.40 L522.11,268.45 L522.95,269.50 L523.79,270.55 L524.62,271.60 L525.46,272.66 L526.29,273.71 L527.12,274.77 L527.95,275.82 L528.78,276.88 L529.60,277.94 L530.43,279.01 L531.25,280.07 L532.07,281.14 L532.89,282.20 L533.70,283.27 L534.51,284.34 L535.32,285.41 L536.13,286.49 L536.94,287.56 L537.74,288.64 L538.54,289.72 L539.34,290.80 L540.14,291.88 L540.93,292.97 L541.72,294.06 L542.51,295.15 L543.29,296.24 L544.07,297.33 L544.85,298.43 L545.63,299.52 L546.40,300.63 L547.17,301.73 L547.93,302.83 L548.70,303.94 L549.46,305.05 L550.22,306.16 L550.97,307.27 L551.72,308.39 L552.47,309.50 L553.22,310.62 L553.96,311.74 L554.70,312.87 L555.44,313.99 L556.18,315.12 L556.91,316.25 L557.64,317.38 L558.36,318.51 L559.08,319.65 L559.80,320.79 L560.52,321.92 L561.23,323.07 L561.94,324.21 L562.65,325.35 L563.36,326.50 L564.06,327.65 L564.76,328.80 L565.45,329.95 L566.15,331.10 L566.84,332.26 L567.52,333.42 L568.21,334.58 L568.89,335.74 L569.57,336.90 L570.24,338.07 L570.91,339.23 L571.58,340.40 L572.25,341.57 L572.91,342.74 L573.57,343.92 L574.23,345.09 L574.88,346.27 L575.54,347.45 L576.18,348.63 L576.83,349.81 L577.47,350.99 L578.11,352.18 L578.75,353.36 L579.38,354.55 L580.01,355.74 L580.64,356.93 L581.26,358.13 L581.88,359.32 L582.50,360.52 L583.12,361.72 L583.73,362.91 L584.34,364.12 L584.94,365.32 L585.55,366.52 L586.15,367.73 L586.74,368.93 L587.34,370.14 L587.93,371.35 L588.52,372.56 L589.10,373.77 L589.68,374.99 L590.26,376.20 L590.84,377.42 L591.41,378.64 L591.98,379.86 L592.55,381.08 L593.11,382.30 L593.67,383.52 L594.23,384.75 L594.78,385.97 L595.33,387.20 L595.88,388.43 L596.43,389.66 L596.97,390.89 L597.51,392.12 L598.04,393.36 L598.58,394.59 L599.11,395.83 L599.63,397.06 L600.16,398.30 L600.68,399.54 L601.20,400.78 L601.71,402.02 L602.22,403.27 L602.73,404.51 L603.23,405.76 L603.74,407.00 L604.24,408.25 L604.73,409.50 L605.23,410.75 L605.72,412.00 L606.20,413.25 L606.69,414.50" stroke="#00aa00" stroke-width="4" fill="none" stroke-linecap="square" stroke-linejoin="round"/>
<path d="M52.40,36.93 L54.18,36.94 L55.96,36.95 L57.74,36.96 L59.52,36.98 L61.30,37.00 L63.08,37.03 L64.85,37.06 L66.63,37.10 L68.41,37.14 L70.19,37.19 L71.97,37.24 L73.74,37.30 L75.52,37.36 L77.30,37.43 L79.08,37.50 L80.85,37.58 L82.63,37.66 L84.41,37.75 L86.18,37.84 L87.96,37.94 L89.74,38.04 L91.51,38.14 L93.29,38.25 L95.06,38.37 L96.84,38.49 L98.61,38.62 L100.39,38.75 L102.16,38.88 L103.93,39.02 L105.71,39.16 L107.48,39.31 L109.25,39.47 L111.02,39.63 L112.79,39.79 L114.57,39.96 L116.34,40.13 L118.11,40.31 L119.88,40.49 L121.65,40.68 L123.41,40.87 L125.18,41.06 L126.95,41.27 L128.72,41.47 L130.48,41.68 L132.25,41.90 L134.02,42.12 L135.78,42.34 L137.55,42.57 L139.31,42.81 L141.07,43.04 L142.83,43.29 L144.60,43.54 L146.36,43.79 L148.12,44.05 L149.88,44.31 L151.64,44.57 L153.40,44.85 L155.15,45.12 L156.91,45.40 L158.67,45.69 L160.42,45.98 L162.18,46.27 L163.93,46.57 L165.69,46.87 L167.44,47.18 L169.19,47.49 L170.94,47.81 L172.69,48.13 L174.44,48.46 L176.19,48.79 L177.93,49.13 L179.68,49.47 L181.43,49.81 L183.17,50.16 L184.92,50.52 L186.66,50.87 L188.40,51.24 L190.14,51.60 L191.88,51.98 L193.62,52.35 L195.36,52.73 L197.09,53.12 L198.83,53.51 L200.57,53.90 L202.30,54.30 L204.03,54.71 L205.76,55.11 L207.49,55.53 L209.22,55.94 L210.95,56.36 L212.68,56.79 L214.41,57.22 L216.13,57.65 L217.85,58.09 L219.58,58.54 L221.30,58.98 L223.02,59.44 L224.74,59.89 L226.46,60.36 L228.17,60.82 L229.89,61.29 L231.60,61.77 L233.31,62.24 L235.03,62.73 L236.74,63.22 L238.45,63.71 L240.15,64.20 L241.86,64.70 L243.56,65.21 L245.27,65.72 L246.97,66.23 L248.67,66.75 L250.37,67.27 L252.07,67.80 L253.76,68.33 L255.46,68.87 L257.15,69.41 L258.85,69.95 L260.54,70.50 L262.23,71.05 L263.91,71.61 L265.60,72.17 L267.28,72.74 L268.97,73.31 L270.65,73.88 L272.33,74.46 L274.01,75.04 L275.68,75.63 L277.36,76.22 L279.03,76.81 L280.71,77.41 L282.38,78.02 L284.04,78.63 L285.71,79.24 L287.38,79.86 L289.04,80.48 L290.70,81.10 L292.36,81.73 L294.02,82.36 L295.68,83.00 L297.33,83.64 L298.99,84.29 L300.64,84.94 L302.29,85.60 L303.94,86.25 L305.58,86.92 L307.23,87.58 L308.87,88.25 L310.51,88.93" stroke="#800080" stroke-width="4" fill="none" stroke-dasharray="7.85 7.85" stroke-linecap="square" stroke-linejoin="round"/>
<path d="M310.40,89.20 L305.00,88.60 L300.00,87.60 L295.00,86.60 L290.32,85.47 L291.81,86.45 L293.32,87.41 L294.82,88.37 L296.33,89.33 L297.84,90.28 L299.36,91.22 L300.88,92.16 L302.40,93.09 L303.93,94.01 L305.45,94.93 L306.99,95.85 L308.52,96.75 L310.06,97.66 L311.60,98.56 L313.14,99.45 L314.69,100.34 L316.23,101.23 L317.78,102.11 L319.34,102.99 L320.89,103.86 L322.45,104.73 L324.00,105.60 L325.56,106.46 L327.13,107.32 L328.69,108.18 L330.25,109.04 L331.82,109.89 L333.39,110.74 L334.96,111.59 L336.53,112.43 L338.10,113.28 L339.67,114.12 L341.24,114.96 L342.82,115.80 L344.39,116.64 L345.97,117.47 L347.54,118.31 L349.12,119.15 L350.69,119.98 L352.27,120.82 L353.85,121.65 L355.42,122.49 L357.00,123.32 L358.58,124.16 L360.15,125.00 L361.73,125.83 L363.30,126.67 L364.88,127.51 L366.45,128.35 L368.03,129.19 L369.60,130.04 L371.17,130.88 L372.74,131.73 L374.31,132.58 L375.88,133.43 L377.45,134.28 L379.02,135.13 L380.59,135.99 L382.15,136.84 L383.72,137.70 L385.28,138.56 L386.85,139.42 L388.41,140.29 L389.97,141.15 L391.53,142.02 L393.09,142.89 L394.65,143.76 L396.21,144.63 L397.76,145.50 L399.32,146.38 L400.87,147.26 L402.43,148.13 L403.98,149.02 L405.53,149.90 L407.08,150.78 L408.63,151.67 L410.18,152.56 L411.72,153.45 L413.27,154.34 L414.81,155.24 L416.36,156.13 L417.90,157.03 L419.44,157.93 L420.98,158.83 L422.52,159.74 L424.06,160.64 L425.59,161.55 L427.13,162.46 L428.66,163.37 L430.19,164.29 L431.72,165.21 L433.25,166.12 L434.78,167.04 L436.31,167.97 L437.83,168.89 L439.36,169.82 L440.88,170.75 L442.40,171.68 L443.92,172.61 L445.44,173.55 L446.96,174.49 L448.47,175.43 L449.99,176.37 L451.50,177.32 L453.01,178.26 L454.52,179.21 L456.03,180.17 L457.53,181.12 L459.04,182.08 L460.54,183.04 L462.05,184.00 L463.55,184.96 L465.04,185.93 L466.54,186.89 L468.04,187.87 L469.53,188.84 L471.02,189.81 L472.51,190.79 L474.00,191.77 L475.49,192.76 L476.98,193.74 L478.46,194.73 L479.94,195.72 L481.42,196.71 L482.90,197.71 L484.38,198.71 L485.85,199.71 L487.33,200.71 L488.80,201.72 L490.27,202.73 L491.74,203.74 L493.20,204.75 L494.67,205.77 L496.13,206.79 L497.59,207.81 L499.05,208.83 L500.50,209.86 L501.96,210.89 L503.41,211.92 L504.86,212.96 L506.31,214.00 L507.76,215.04 L509.20,216.08 L510.64,217.13 L512.08,218.18 L513.52,219.23 L514.96,220.29 L516.39,221.35 L517.83,222.41 L519.26,223.47 L520.69,224.54 L522.11,225.61 L523.54,226.68 L524.96,227.76 L526.38,228.84 L527.80,229.92 L529.21,231.00 L530.63,232.09 L532.04,233.18 L533.45,234.27 L534.85,235.37 L536.26,236.47 L537.66,237.57 L539.06,238.68 L540.46,239.79 L541.85,240.90 L543.24,242.01 L544.64,243.13 L546.02,244.25 L547.41,245.38 L548.79,246.51 L550.17,247.64 L551.55,248.77 L552.93,249.91 L554.30,251.05 L555.68,252.19 L557.05,253.34 L558.41,254.49 L559.78,255.64 L561.14,256.80 L562.50,257.95 L563.86,259.12 L565.21,260.28 L566.56,261.45 L567.91,262.62 L569.26,263.79 L570.60,264.97 L571.95,266.15 L573.29,267.33 L574.62,268.52 L575.96,269.71 L577.29,270.90 L578.62,272.09 L579.95,273.29 L581.27,274.49 L582.59,275.70 L583.91,276.90 L585.23,278.11 L586.54,279.32 L587.85,280.54 L589.16,281.76 L590.47,282.98 L591.77,284.20 L593.07,285.43 L594.37,286.66 L595.67,287.89 L596.96,289.13 L598.25,290.36 L599.54,291.60 L600.82,292.85 L602.10,294.09 L603.38,295.34 L604.66,296.60 L605.93,297.85 L607.20,299.11 L608.47,300.37 L609.73,301.63 L611.00,302.90 L612.26,304.17 L613.51,305.44 L614.77,306.71 L616.02,307.99 L617.27,309.27 L618.51,310.55 L619.75,311.84 L620.99,313.13 L622.23,314.42 L623.46,315.71 L624.69,317.01 L625.92,318.30 L627.15,319.61 L628.37,320.91 L629.59,322.22 L630.80,323.52 L632.02,324.84 L633.23,326.15 L634.43,327.47 L635.64,328.79 L636.84,330.11 L638.04,331.43 L639.23,332.76 L640.43,334.09 L641.61,335.42 L642.80,336.76 L643.98,338.10 L645.16,339.44 L646.34,340.78 L647.51,342.13 L648.68,343.47 L649.85,344.82 L651.02,346.18 L652.18,347.53 L653.34,348.89 L654.49,350.25 L655.64,351.61 L656.79,352.98 L657.94,354.34 L659.08,355.71 L660.22,357.09 L661.36,358.46 L662.49,359.84 L663.62,361.22 L664.74,362.60 L665.87,363.99 L666.99,365.37 L668.10,366.76 L669.22,368.15 L670.33,369.55 L671.43,370.94 L672.54,372.34 L673.64,373.74 L674.73,375.15 L675.83,376.55 L676.92,377.96 L678.00,379.37 L679.08,380.79 L680.16,382.20 L681.23,383.62 L682.30,385.05 L683.37,386.48 L684.43,387.91 L685.48,389.34 L686.53,390.78 L687.57,392.22 L688.61,393.67 L689.64,395.12 L690.66,396.58 L691.68,398.04 L692.69,399.51 L693.70,400.98 L694.70,402.46 L695.69,403.94 L696.67,405.43 L697.65,406.92 L698.62,408.42 L699.58,409.93 L700.54,411.44 L701.48,412.96 L702.42,414.48" stroke="#800080" stroke-width="4" fill="none" stroke-linecap="square" stroke-linejoin="round"/>
</g>
<defs><clipPath id="b"><rect x="440" y="400" width="266" height="14"/></clipPath></defs><g clip-path="url(#b)" opacity="0.4"><g stroke="#6c6c6c" fill="none"><g stroke-width="0.9"><rect x="39.5" y="0.4" width="665.9" height="411.70000000000005"/></g><g stroke-width="0.85"><line x1="52.40" y1="412.1" x2="52.40" y2="404.1"/><line x1="52.40" y1="0.4" x2="52.40" y2="8.4"/><line x1="77.01" y1="412.1" x2="77.01" y2="407.1"/><line x1="77.01" y1="0.4" x2="77.01" y2="5.4"/><line x1="101.61" y1="412.1" x2="101.61" y2="407.1"/><line x1="101.61" y1="0.4" x2="101.61" y2="5.4"/><line x1="126.22" y1="412.1" x2="126.22" y2="407.1"/><line x1="126.22" y1="0.4" x2="126.22" y2="5.4"/><line x1="150.82" y1="412.1" x2="150.82" y2="407.1"/><line x1="150.82" y1="0.4" x2="150.82" y2="5.4"/><line x1="175.43" y1="412.1" x2="175.43" y2="404.1"/><line x1="175.43" y1="0.4" x2="175.43" y2="8.4"/><line x1="200.04" y1="412.1" x2="200.04" y2="407.1"/><line x1="200.04" y1="0.4" x2="200.04" y2="5.4"/><line x1="224.64" y1="412.1" x2="224.64" y2="407.1"/><line x1="224.64" y1="0.4" x2="224.64" y2="5.4"/><line x1="249.25" y1="412.1" x2="249.25" y2="407.1"/><line x1="249.25" y1="0.4" x2="249.25" y2="5.4"/><line x1="273.85" y1="412.1" x2="273.85" y2="407.1"/><line x1="273.85" y1="0.4" x2="273.85" y2="5.4"/><line x1="298.46" y1="412.1" x2="298.46" y2="404.1"/><line x1="298.46" y1="0.4" x2="298.46" y2="8.4"/><line x1="323.07" y1="412.1" x2="323.07" y2="407.1"/><line x1="323.07" y1="0.4" x2="323.07" y2="5.4"/><line x1="347.67" y1="412.1" x2="347.67" y2="407.1"/><line x1="347.67" y1="0.4" x2="347.67" y2="5.4"/><line x1="372.28" y1="412.1" x2="372.28" y2="407.1"/><line x1="372.28" y1="0.4" x2="372.28" y2="5.4"/><line x1="396.88" y1="412.1" x2="396.88" y2="407.1"/><line x1="396.88" y1="0.4" x2="396.88" y2="5.4"/><line x1="421.49" y1="412.1" x2="421.49" y2="404.1"/><line x1="421.49" y1="0.4" x2="421.49" y2="8.4"/><line x1="446.10" y1="412.1" x2="446.10" y2="407.1"/><line x1="446.10" y1="0.4" x2="446.10" y2="5.4"/><line x1="470.70" y1="412.1" x2="470.70" y2="407.1"/><line x1="470.70" y1="0.4" x2="470.70" y2="5.4"/><line x1="495.31" y1="412.1" x2="495.31" y2="407.1"/><line x1="495.31" y1="0.4" x2="495.31" y2="5.4"/><line x1="519.91" y1="412.1" x2="519.91" y2="407.1"/><line x1="519.91" y1="0.4" x2="519.91" y2="5.4"/><line x1="544.52" y1="412.1" x2="544.52" y2="404.1"/><line x1="544.52" y1="0.4" x2="544.52" y2="8.4"/><line x1="569.13" y1="412.1" x2="569.13" y2="407.1"/><line x1="569.13" y1="0.4" x2="569.13" y2="5.4"/><line x1="593.73" y1="412.1" x2="593.73" y2="407.1"/><line x1="593.73" y1="0.4" x2="593.73" y2="5.4"/><line x1="618.34" y1="412.1" x2="618.34" y2="407.1"/><line x1="618.34" y1="0.4" x2="618.34" y2="5.4"/><line x1="642.94" y1="412.1" x2="642.94" y2="407.1"/><line x1="642.94" y1="0.4" x2="642.94" y2="5.4"/><line x1="667.55" y1="412.1" x2="667.55" y2="404.1"/><line x1="667.55" y1="0.4" x2="667.55" y2="8.4"/><line x1="692.16" y1="412.1" x2="692.16" y2="407.1"/><line x1="692.16" y1="0.4" x2="692.16" y2="5.4"/><line x1="39.5" y1="3.73" x2="44.0" y2="3.73"/><line x1="705.4" y1="3.73" x2="700.9" y2="3.73"/><line x1="39.5" y1="21.35" x2="47.0" y2="21.35"/><line x1="705.4" y1="21.35" x2="697.9" y2="21.35"/><line x1="39.5" y1="38.97" x2="44.0" y2="38.97"/><line x1="705.4" y1="38.97" x2="700.9" y2="38.97"/><line x1="39.5" y1="56.60" x2="44.0" y2="56.60"/><line x1="705.4" y1="56.60" x2="700.9" y2="56.60"/><line x1="39.5" y1="74.22" x2="44.0" y2="74.22"/><line x1="705.4" y1="74.22" x2="700.9" y2="74.22"/><line x1="39.5" y1="91.85" x2="44.0" y2="91.85"/><line x1="705.4" y1="91.85" x2="700.9" y2="91.85"/><line x1="39.5" y1="109.47" x2="47.0" y2="109.47"/><line x1="705.4" y1="109.47" x2="697.9" y2="109.47"/><line x1="39.5" y1="127.09" x2="44.0" y2="127.09"/><line x1="705.4" y1="127.09" x2="700.9" y2="127.09"/><line x1="39.5" y1="144.72" x2="44.0" y2="144.72"/><line x1="705.4" y1="144.72" x2="700.9" y2="144.72"/><line x1="39.5" y1="162.34" x2="44.0" y2="162.34"/><line x1="705.4" y1="162.34" x2="700.9" y2="162.34"/><line x1="39.5" y1="179.97" x2="44.0" y2="179.97"/><line x1="705.4" y1="179.97" x2="700.9" y2="179.97"/><line x1="39.5" y1="197.59" x2="47.0" y2="197.59"/><line x1="705.4" y1="197.59" x2="697.9" y2="197.59"/><line x1="39.5" y1="215.21" x2="44.0" y2="215.21"/><line x1="705.4" y1="215.21" x2="700.9" y2="215.21"/><line x1="39.5" y1="232.84" x2="44.0" y2="232.84"/><line x1="705.4" y1="232.84" x2="700.9" y2="232.84"/><line x1="39.5" y1="250.46" x2="44.0" y2="250.46"/><line x1="705.4" y1="250.46" x2="700.9" y2="250.46"/><line x1="39.5" y1="268.09" x2="44.0" y2="268.09"/><line x1="705.4" y1="268.09" x2="700.9" y2="268.09"/><line x1="39.5" y1="285.71" x2="47.0" y2="285.71"/><line x1="705.4" y1="285.71" x2="697.9" y2="285.71"/><line x1="39.5" y1="303.33" x2="44.0" y2="303.33"/><line x1="705.4" y1="303.33" x2="700.9" y2="303.33"/><line x1="39.5" y1="320.96" x2="44.0" y2="320.96"/><line x1="705.4" y1="320.96" x2="700.9" y2="320.96"/><line x1="39.5" y1="338.58" x2="44.0" y2="338.58"/><line x1="705.4" y1="338.58" x2="700.9" y2="338.58"/><line x1="39.5" y1="356.21" x2="44.0" y2="356.21"/><line x1="705.4" y1="356.21" x2="700.9" y2="356.21"/><line x1="39.5" y1="373.83" x2="47.0" y2="373.83"/><line x1="705.4" y1="373.83" x2="697.9" y2="373.83"/><line x1="39.5" y1="391.45" x2="44.0" y2="391.45"/><line x1="705.4" y1="391.45" x2="700.9" y2="391.45"/><line x1="39.5" y1="409.08" x2="44.0" y2="409.08"/><line x1="705.4" y1="409.08" x2="700.9" y2="409.08"/></g></g></g>
<g font-family="Liberation Serif, serif" font-size="29.3px" fill="#000" style="opacity:0.999"><text transform="translate(52.40,441.0) scale(1,1.045)" text-anchor="middle">0</text><text x="175.43" y="440.6" text-anchor="middle">1</text><text x="298.46" y="440.6" text-anchor="middle">2</text><text x="421.49" y="440.6" text-anchor="middle">3</text><text x="544.52" y="440.6" text-anchor="middle">4</text><text x="667.55" y="440.6" text-anchor="middle">5</text><text transform="translate(33.2,29.35) scale(1,1.045)" text-anchor="end">0</text><text x="33.2" y="117.77" text-anchor="end">1</text><text x="9.1" y="120.07" text-anchor="middle">−</text><text x="33.2" y="205.89" text-anchor="end">2</text><text x="9.1" y="208.19" text-anchor="middle">−</text><text x="33.2" y="294.01" text-anchor="end">3</text><text x="9.1" y="296.31" text-anchor="middle">−</text><text x="33.2" y="382.13" text-anchor="end">4</text><text x="9.1" y="384.43" text-anchor="middle">−</text></g>
</svg>
</body></html>
